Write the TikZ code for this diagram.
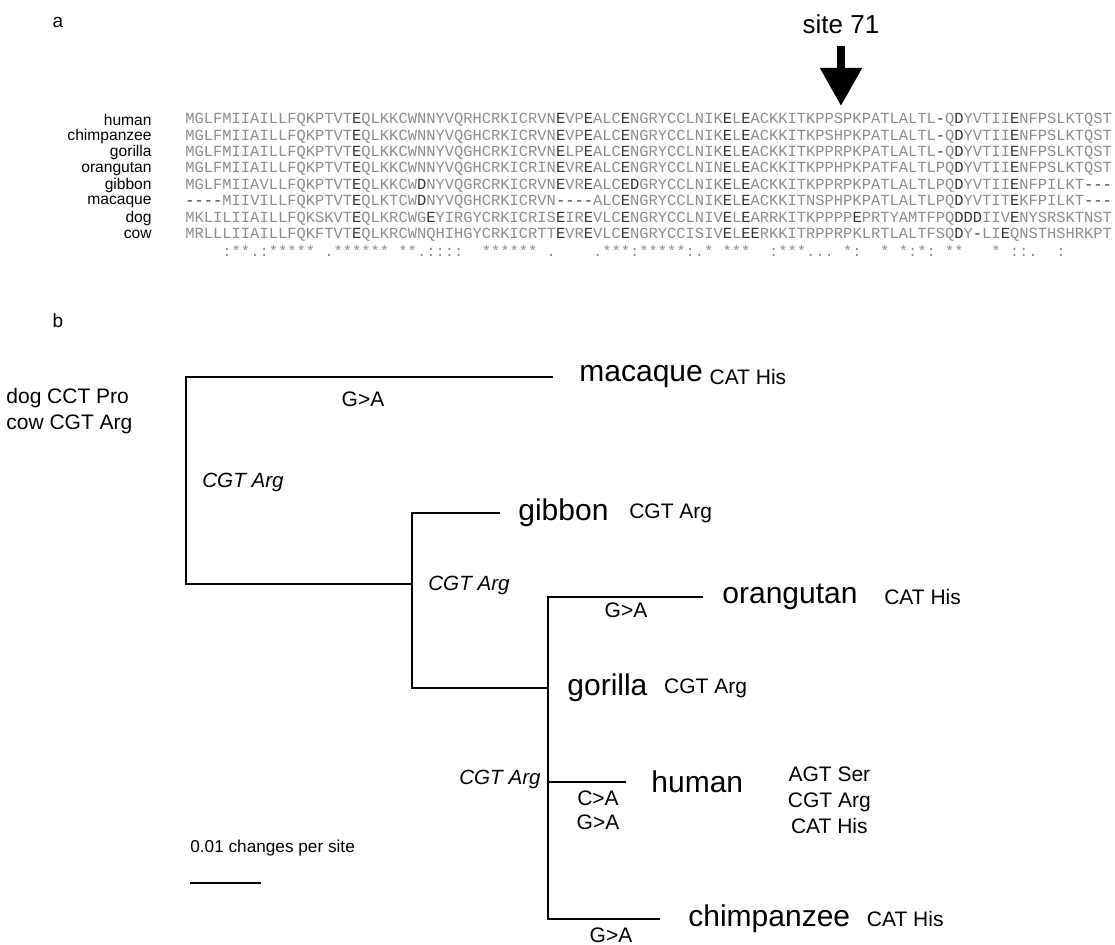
\documentclass[tikz,border=0pt]{standalone}
\usepackage{fontspec}
\setmainfont{Liberation Sans}
\setmonofont{Liberation Mono}
\usetikzlibrary{positioning,arrows.meta}

\definecolor{seqgray}{gray}{0.55}
\definecolor{seqdark}{gray}{0.2}
\newcommand{\dk}[1]{\textcolor{seqdark}{#1}}

\begin{document}
\begin{tikzpicture}[
        x=0.5pt, y=-0.5pt, % pixel grid, y downwards
        every node/.style={inner sep=0pt},
        panel/.style={font=\fontsize{9.5}{11}\selectfont},
        taxon/.style={anchor=east, font=\fontsize{7.8}{8}\selectfont},
        seq/.style={anchor=west, font=\fontsize{7.72}{8}\ttfamily, text=seqgray},
        species/.style={font=\fontsize{15}{17}\selectfont},
        codon/.style={font=\fontsize{10.5}{13}\selectfont, align=center},
        ancestor/.style={font=\fontsize{10.3}{12}\itshape},
        change/.style={font=\fontsize{10.5}{12}\selectfont, align=center},
        branch/.style={line width=1.3pt},
        sitearrow/.style={line width=4pt, shorten <=6pt, -{Triangle[width=20pt,length=19pt]}}
    ]
    \useasboundingbox (0,0) rectangle (1115,945);

    % Panel a: alignment
    \node[panel] (pa) at (58,22) {a};
    \node[font=\fontsize{13}{15}\selectfont] (site) at (841,24) {site 71};
    \coordinate (s71) at (841,106);
    \draw[sitearrow] (site.south) -- (s71);

    \node[taxon] (thuman) at (152,120) {human};
    \node[taxon] (tchimp) at (152,136.4) {chimpanzee};
    \node[taxon] (tgorilla) at (152,152.8) {gorilla};
    \node[taxon] (torang) at (152,169.2) {orangutan};
    \node[taxon] (tgibbon) at (152,185.6) {gibbon};
    \node[taxon] (tmacaque) at (152,202) {macaque};
    \node[taxon] (tdog) at (152,218.4) {dog};
    \node[taxon] (tcow) at (152,234.8) {cow};

    \node[seq, right=16.5pt of thuman] (shuman) {MGLFMIIAILLFQKPTVT\dk{E}QLKKCWNNYVQRHCRKICRVN\dk{E}VP\dk{E}ALC\dk{E}NGRYCCLNIK\dk{E}L\dk{E}ACKKITKPPSPKPATLALTL\dk{-}Q\dk{D}YVTII\dk{E}NFPSLKTQST};
    \node[seq, right=16.5pt of tchimp] (schimp) {MGLFMIIAILLFQKPTVT\dk{E}QLKKCWNNYVQGHCRKICRVN\dk{E}VP\dk{E}ALC\dk{E}NGRYCCLNIK\dk{E}L\dk{E}ACKKITKPSHPKPATLALTL\dk{-}Q\dk{D}YVTII\dk{E}NFPSLKTQST};
    \node[seq, right=16.5pt of tgorilla] (sgorilla) {MGLFMIIAILLFQKPTVT\dk{E}QLKKCWNNYVQGHCRKICRVN\dk{E}LP\dk{E}ALC\dk{E}NGRYCCLNIK\dk{E}L\dk{E}ACKKITKPPRPKPATLALTL\dk{-}Q\dk{D}YVTII\dk{E}NFPSLKTQST};
    \node[seq, right=16.5pt of torang] (sorang) {MGLFMIIAILLFQKPTVT\dk{E}QLKKCWNNYVQGHCRKICRIN\dk{E}VR\dk{E}ALC\dk{E}NGRYCCLNIN\dk{E}L\dk{E}ACKKITKPPHPKPATFALTLPQ\dk{D}YVTII\dk{E}NFPSLKTQST};
    \node[seq, right=16.5pt of tgibbon] (sgibbon) {MGLFMIIAVLLFQKPTVT\dk{E}QLKKCW\dk{D}NYVQGRCRKICRVN\dk{E}VR\dk{E}ALC\dk{E}\dk{D}GRYCCLNIK\dk{E}L\dk{E}ACKKITKPPRPKPATLALTLPQ\dk{D}YVTII\dk{E}NFPILKT\dk{-}\dk{-}\dk{-}};
    \node[seq, right=16.5pt of tmacaque] (smacaque) {\dk{-}\dk{-}\dk{-}\dk{-}MIIVILLFQKPTVT\dk{E}QLKTCW\dk{D}NYVQGHCRKICRVN\dk{-}\dk{-}\dk{-}\dk{-}ALC\dk{E}NGRYCCLNIK\dk{E}L\dk{E}ACKKITNSPHPKPATLALTLPQ\dk{D}YVTIT\dk{E}KFPILKT\dk{-}\dk{-}\dk{-}};
    \node[seq, right=16.5pt of tdog] (sdog) {MKLILIIAILLFQKSKVT\dk{E}QLKRCWG\dk{E}YIRGYCRKICRIS\dk{E}IR\dk{E}VLC\dk{E}NGRYCCLNIV\dk{E}L\dk{E}ARRKITKPPPP\dk{E}PRTYAMTFPQ\dk{D}\dk{D}\dk{D}IIV\dk{E}NYSRSKTNST};
    \node[seq, right=16.5pt of tcow] (scow) {MRLLLIIAILLFQKFTVT\dk{E}QLKRCWNQHIHGYCRKICRTT\dk{E}VR\dk{E}VLC\dk{E}NGRYCCISIV\dk{E}L\dk{E}\dk{E}RKKITRPPRPKLRTLALTFSQ\dk{D}Y\dk{-}LI\dk{E}QNSTHSHRKPT};
    \node[seq] (cons) at (scow.west |- 0,251.2) {~~~~:**.:*****~.******~**.::::~~******~.~~~~.***:*****:.*~***~~:***...~*:~~*~*:*:~**~~~*~::.~~:};

    % Panel b: tree
    \node[panel] (pb) at (58,321) {b};

    \coordinate (mac) at (553,377);
    \coordinate (root) at (186,584);
    \coordinate (ra) at (412,584);
    \coordinate (gib) at (500,513);
    \coordinate (rb) at (548,688);
    \coordinate (ora) at (703,597);
    \coordinate (hum) at (626,782);
    \coordinate (chi) at (660,919);

    \draw[branch] (mac) -| (root) -- (ra);
    \draw[branch] (gib) -| (ra |- rb) -- (rb);
    \draw[branch] (ora) -| (rb |- chi) -- (chi);
    \draw[branch] (hum) -- (hum -| rb);

    % Species and codons
    \node[species, right=13pt of mac] (macaque) {macaque};
    \node[codon, right=3pt of macaque] (cmacaque) {CAT His};
    \node[species, right=9pt of gib] (gibbon) {gibbon};
    \node[codon, right=10pt of gibbon] (cgibbon) {CGT Arg};
    \node[species, right=9.5pt of ora] (orangutan) {orangutan};
    \node[codon, right=13pt of orangutan] (corang) {CAT His};
    \node[species, right=9.5pt of rb] (gorilla) {gorilla};
    \node[codon, right=8pt of gorilla] (cgorilla) {CGT Arg};
    \node[species, right=12.5pt of hum] (human) {human};
    \node[codon, right=22pt of human, yshift=-9pt] (chuman) {AGT Ser\\CGT Arg\\CAT His};
    \node[species, right=14pt of chi] (chimp) {chimpanzee};
    \node[codon, right=8pt of chimp] (cchimp) {CAT His};

    \node[codon, align=left, anchor=west] (outgroup) at (6,411) {dog CCT Pro\\cow CGT Arg};

    % Ancestral states
    \node[ancestor] (aroot) at (243,482) {CGT Arg};
    \node[ancestor] (aa) at (469,585) {CGT Arg};
    \node[ancestor, anchor=east] (ab) at (541,779) {CGT Arg};

    % Substitutions
    \node[change] (gmac) at (363,399) {G>A};
    \node[change] (gora) at (626,610) {G>A};
    \node[change] (ghum) at (598,810) {C>A\\G>A};
    \node[change] (gchi) at (611,935) {G>A};

    % Scale
    \node[change, anchor=west, font=\fontsize{8.6}{10}\selectfont] (scale) at (190,848) {0.01 changes per site};
    \coordinate (sb1) at (190,883);
    \coordinate (sb2) at (261,883);
    \draw[line width=0.6pt] (sb1) -- (sb2);
\end{tikzpicture}
\end{document}
